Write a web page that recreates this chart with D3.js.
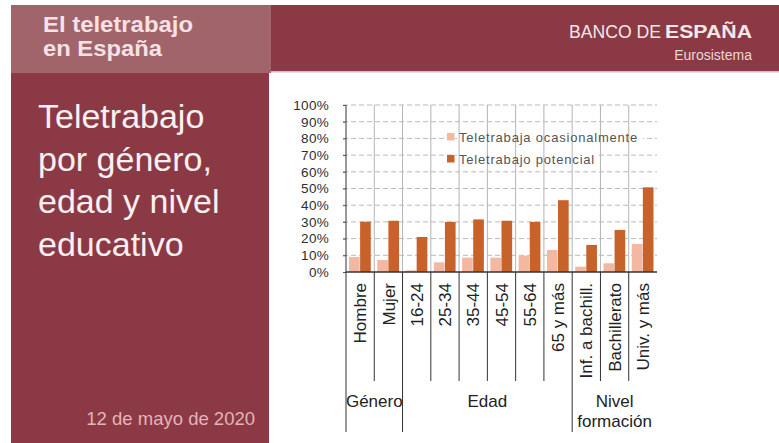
<!DOCTYPE html>
<html>
<head>
<meta charset="utf-8">
<script src="https://cdn.jsdelivr.net/npm/d3@7"></script>
<style>
  html, body { margin: 0; padding: 0; background: #ffffff; }
  svg { display: block; }
  text { font-family: "Liberation Sans", Arial, Helvetica, sans-serif; }
</style>
</head>
<body>
<svg id="chart" width="779" height="443"></svg>
<script>
// Teletrabajo por género, edad y nivel educativo (% de ocupados)
const categories = ["Hombre", "Mujer", "16-24", "25-34", "35-44", "45-54", "55-64",
                    "65 y más", "Inf. a bachill.", "Bachillerato", "Univ. y más"];
const ocasional = [9.0, 7.2, 1.0, 5.8, 8.6, 8.6, 9.8, 13.2, 3.2, 5.2, 16.8];
const potencial = [30.1, 30.7, 21.0, 30.0, 31.5, 30.7, 30.0, 43.0, 16.2, 25.2, 50.7];
const seriesNames = ["Teletrabaja ocasionalmente", "Teletrabajo potencial"];
const yTicks = [0, 10, 20, 30, 40, 50, 60, 70, 80, 90, 100];
const groupLabels = [["Género"], ["Edad"], ["Nivel", "formación"]];
const groupStart = [0, 2, 8];   // first category index of each group
const groupEnd = [2, 8, 11];    // one past the last category index

const W = 779, H = 443;
const maroon = "#8b3a45", rose = "#a2646b";
const colors = ["#f3b7a2", "#c8622b"];

const svg = d3.select("#chart");

// ---- page frame -------------------------------------------------------
svg.append("rect").attr("x", 271).attr("y", 5).attr("width", W - 271).attr("height", 66).attr("fill", maroon);
svg.append("rect").attr("x", 271).attr("y", 71).attr("width", W - 271).attr("height", 1.5).attr("fill", "#d8b9bc");
svg.append("rect").attr("x", 11).attr("y", 5).attr("width", 260).attr("height", 68).attr("fill", rose);
svg.append("rect").attr("x", 11).attr("y", 73).attr("width", 258).attr("height", H - 73).attr("fill", maroon);

const head = svg.append("g").attr("fill", "#f6e2e4").attr("font-weight", "bold").attr("font-size", 22);
head.append("text").attr("x", 43).attr("y", 32)
  .attr("textLength", 150).attr("lengthAdjust", "spacingAndGlyphs").text("El teletrabajo");
head.append("text").attr("x", 43).attr("y", 56)
  .attr("textLength", 119).attr("lengthAdjust", "spacingAndGlyphs").text("en España");

svg.append("text").attr("x", 569).attr("y", 38).attr("font-size", 18).attr("fill", "#f7e6e8")
  .attr("textLength", 92).attr("lengthAdjust", "spacingAndGlyphs").text("BANCO DE");
svg.append("text").attr("x", 665).attr("y", 38).attr("font-size", 18).attr("fill", "#f7e6e8")
  .attr("font-weight", "bold").attr("textLength", 87).attr("lengthAdjust", "spacingAndGlyphs")
  .text("ESPAÑA");
svg.append("text").attr("x", 752).attr("y", 60).attr("font-size", 14).attr("text-anchor", "end")
  .attr("fill", "#eed5d8").text("Eurosistema");

const titleLines = ["Teletrabajo", "por género,", "edad y nivel", "educativo"];
svg.append("g").attr("fill", "#fbf0f1").attr("font-size", 34)
  .selectAll("text").data(titleLines).join("text")
  .attr("x", 38).attr("y", (d, i) => 128 + i * 42.5).text(d => d);

svg.append("text").attr("x", 255).attr("y", 425).attr("text-anchor", "end")
  .attr("font-size", 18.5).attr("fill", "#e4b3ba").text("12 de mayo de 2020");

// ---- chart ------------------------------------------------------------
const x = d3.scaleBand().domain(categories).range([346, 657]).padding(0);
const bw = x.bandwidth();
const xs = d3.scaleBand().domain(seriesNames).range([3, bw - 3.5]).paddingInner(0.04);
const y = d3.scaleLinear().domain([0, 100]).range([272, 105]);

const plot = svg.append("g");

// dashed horizontal grid
plot.append("g").selectAll("line").data(yTicks.filter(t => t > 0)).join("line")
  .attr("x1", 343).attr("x2", 657)
  .attr("y1", d => y(d)).attr("y2", d => y(d))
  .attr("stroke", "#b9b9b9").attr("stroke-width", 1).attr("stroke-dasharray", "5,3");

// legend backing, above the dashed grid
const legendY = [137, 159];
const legendW = [186, 140];
plot.append("g").selectAll("rect").data(seriesNames).join("rect")
  .attr("x", 457).attr("y", (d, i) => legendY[i] - 5.5)
  .attr("width", (d, i) => legendW[i]).attr("height", 12)
  .attr("fill", "#ffffff");

// vertical grid at category boundaries
const inner = categories.slice(1);
plot.append("g").selectAll("line").data(inner).join("line")
  .attr("x1", d => x(d)).attr("x2", d => x(d))
  .attr("y1", y(100)).attr("y2", y(0))
  .attr("stroke", "#b4b4b4").attr("stroke-width", 1);

// bars
const rows = categories.map((c, i) => ({ c, vals: [ocasional[i], potencial[i]] }));
plot.append("g").selectAll("g").data(rows).join("g")
  .attr("transform", d => `translate(${x(d.c)},0)`)
  .selectAll("rect").data(d => d.vals.map((v, k) => ({ v, k })))
  .join("rect")
  .attr("x", d => xs(seriesNames[d.k]))
  .attr("width", xs.bandwidth())
  .attr("y", d => y(d.v))
  .attr("height", d => y(0) - y(d.v))
  .attr("fill", d => colors[d.k]);

// y axis
const yAxis = d3.axisLeft(y).tickValues(yTicks).tickSize(3).tickPadding(14)
  .tickFormat(d => d + "%");
const ya = plot.append("g").attr("transform", "translate(346,0)").call(yAxis);
ya.select(".domain").attr("stroke", "#333").attr("d", `M0,${y(100)}V${y(0)}`);
ya.selectAll(".tick line").attr("stroke", "#555");
ya.selectAll(".tick text").attr("font-size", 13.5).attr("fill", "#2e2e2e")
  .attr("font-family", "Liberation Sans, Arial, sans-serif").attr("letter-spacing", 0.3);

// x baseline
plot.append("line").attr("x1", 346).attr("x2", 657).attr("y1", y(0)).attr("y2", y(0))
  .attr("stroke", "#333").attr("stroke-width", 1.3);

// category separators below the axis
const groupEdges = new Set(groupStart.map(i => categories[i]));
plot.append("g").selectAll("line").data(categories).join("line")
  .attr("x1", d => x(d)).attr("x2", d => x(d))
  .attr("y1", y(0)).attr("y2", d => groupEdges.has(d) ? 432 : 381)
  .attr("stroke", "#333").attr("stroke-width", 1);

// rotated category labels
plot.append("g").selectAll("text").data(categories).join("text")
  .attr("transform", d => `translate(${x(d) + bw / 2},283) rotate(-90)`)
  .attr("text-anchor", "end").attr("dy", "0.36em")
  .attr("font-size", 17).attr("fill", "#222").text(d => d);

// group labels
groupLabels.forEach((lines, g) => {
  const cx = (x(categories[groupStart[g]]) + (groupEnd[g] < categories.length
    ? x(categories[groupEnd[g]]) : x.range()[1])) / 2;
  plot.append("g").selectAll("text").data(lines).join("text")
    .attr("x", cx).attr("y", (d, i) => 407 + i * 20)
    .attr("text-anchor", "middle").attr("font-size", 17).attr("fill", "#222")
    .text(d => d);
});

// legend
const lg = plot.append("g");
lg.selectAll("rect").data(seriesNames).join("rect")
  .attr("x", 447).attr("y", (d, i) => legendY[i] - 4)
  .attr("width", 7.5).attr("height", 7.5).attr("fill", (d, i) => colors[i]);
lg.selectAll("text").data(seriesNames).join("text")
  .attr("x", 459).attr("y", (d, i) => legendY[i] + 5)
  .attr("font-size", 13).attr("fill", "#555").attr("letter-spacing", 0.8)
  .text(d => d);
</script>
</body>
</html>
